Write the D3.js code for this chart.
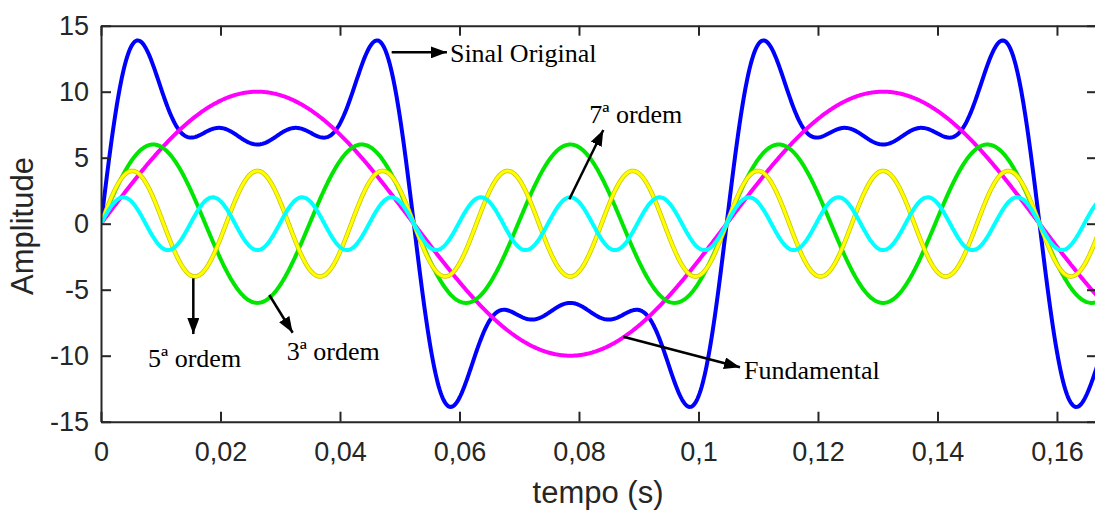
<!DOCTYPE html>
<html>
<head>
<meta charset="utf-8">
<script src="https://d3js.org/d3.v7.min.js"></script>
<style>
  body { margin: 0; background: #fff; }
  .axis text { font-family: "Liberation Sans", Arial, sans-serif; font-size: 27px; fill: #262626; }
  .axis path, .axis line { stroke: #262626; stroke-width: 2; }
  .label { font-family: "Liberation Sans", Arial, sans-serif; font-size: 31px; fill: #262626; }
  .note { font-family: "Liberation Serif", "Times New Roman", serif; font-size: 26px; fill: #000; }
</style>
</head>
<body>
<svg id="chart" width="1095" height="512"></svg>
<script>
// harmonic content: w = 60 rad/s (period ~0.1047 s)
const omega = 60;
const orders = [1, 3, 5, 7];
const amplitudes = [10, 6, 4, 2];
const seriesNames = ["Fundamental", "3ª ordem", "5ª ordem", "7ª ordem"];
const seriesColors = ["#ff00ff", "#00e600", "#ffff00", "#00ffff"];
const originalColor = "#0000ff";
const xTicks = [0, 0.02, 0.04, 0.06, 0.08, 0.1, 0.12, 0.14, 0.16];
const yTicks = [-15, -10, -5, 0, 5, 10, 15];
const tMax = 0.1667;

// annotations: [text, tail x, tail y, tip x, tip y, text x, text y] in data units
const notes = [
  ["Sinal Original", 0.04865, 12.98, 0.0579, 12.98, 0.0584, 12.27],
  ["7ª ordem", 0.07838, 1.85, 0.08407, 7.10, 0.08172, 7.61],
  ["5ª ordem", 0.01545, -4.14, 0.01545, -8.36, 0.00787, -10.83],
  ["3ª ordem", 0.02817, -5.40, 0.03208, -8.26, 0.03108, -10.33],
  ["Fundamental", 0.08742, -8.56, 0.10695, -10.88, 0.10762, -11.79]
];

const margin = {left: 101, top: 25.7, right: -2, bottom: 90.3};
const W = 1095, H = 512;
const svg = d3.select("#chart");

const x = d3.scaleLinear().domain([0, tMax]).range([margin.left, W - margin.right]);
const y = d3.scaleLinear().domain([-15, 15]).range([H - margin.bottom, margin.top]);

const fmt = d => d === 0 ? "0" : String(d).replace(".", ",");

svg.append("clipPath").attr("id", "clip")
  .append("rect")
  .attr("x", x(0)).attr("y", y(15))
  .attr("width", x(tMax) - x(0)).attr("height", y(-15) - y(15));

// sample times
const ts = d3.range(0, 1001).map(i => i * tMax / 1000);
const harmonic = (k) => ts.map(t => [t, amplitudes[k] * Math.sin(orders[k] * omega * t)]);
const original = ts.map(t => [t, d3.sum(orders, (n, k) => amplitudes[k] * Math.sin(n * omega * t))]);

const line = d3.line().x(d => x(d[0])).y(d => y(d[1]));
const g = svg.append("g").attr("clip-path", "url(#clip)");

g.append("path").datum(original)
  .attr("d", line).attr("fill", "none")
  .attr("stroke", originalColor).attr("stroke-width", 4);

orders.forEach((n, k) => {
  if (k === 2) {
    g.append("path").datum(harmonic(k))
      .attr("d", line).attr("fill", "none")
      .attr("stroke", "#c8c400").attr("stroke-width", 4.5);
  }
  g.append("path").datum(harmonic(k))
    .attr("d", line).attr("fill", "none")
    .attr("stroke", seriesColors[k]).attr("stroke-width", k === 2 ? 3 : 4);
});

// axes (box with inward ticks)
svg.append("g").attr("class", "axis")
  .attr("transform", "translate(0," + y(-15) + ")")
  .call(d3.axisBottom(x).tickValues(xTicks).tickFormat(fmt).tickSizeInner(-10).tickSizeOuter(0).tickPadding(20));
svg.append("g").attr("class", "axis")
  .attr("transform", "translate(0," + y(15) + ")")
  .call(d3.axisTop(x).tickValues(xTicks).tickFormat("").tickSizeInner(-10).tickSizeOuter(0));
svg.append("g").attr("class", "axis")
  .attr("transform", "translate(" + x(0) + ",0)")
  .call(d3.axisLeft(y).tickValues(yTicks).tickFormat(d => String(d)).tickSizeInner(-10).tickSizeOuter(0).tickPadding(12));
svg.append("g").attr("class", "axis")
  .attr("transform", "translate(" + x(tMax) + ",0)")
  .call(d3.axisRight(y).tickValues(yTicks).tickFormat("").tickSizeInner(-10).tickSizeOuter(0));

svg.append("text").attr("class", "label")
  .attr("x", 598).attr("y", 503)
  .attr("text-anchor", "middle").text("tempo (s)");
svg.append("text").attr("class", "label")
  .attr("transform", "translate(33,226) rotate(-90)")
  .attr("text-anchor", "middle").text("Amplitude");

// arrow marker
svg.append("defs").append("marker")
  .attr("id", "arrow").attr("markerUnits", "userSpaceOnUse")
  .attr("viewBox", "0 0 16 12").attr("refX", 16).attr("refY", 6)
  .attr("markerWidth", 16).attr("markerHeight", 12).attr("orient", "auto")
  .append("path").attr("d", "M0,0 L16,6 L0,12 Z").attr("fill", "#000");

notes.forEach(d => {
  svg.append("line")
    .attr("x1", x(d[1])).attr("y1", y(d[2]))
    .attr("x2", x(d[3])).attr("y2", y(d[4]))
    .attr("stroke", "#000").attr("stroke-width", 2.5)
    .attr("marker-end", "url(#arrow)");
  svg.append("text").attr("class", "note")
    .attr("x", x(d[5])).attr("y", y(d[6]))
    .text(d[0]);
});
</script>
</body>
</html>
